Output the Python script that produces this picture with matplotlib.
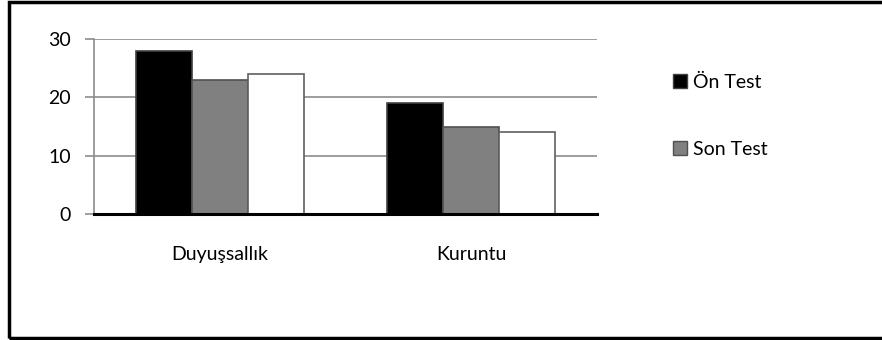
import numpy as np
import matplotlib.pyplot as plt
from matplotlib.patches import Patch, Rectangle

plt.rcParams['font.family'] = ['Lato', 'DejaVu Sans']

categories = ['Duyuşsallık', 'Kuruntu']
on_test = [28, 19]
son_test = [23, 15]
third = [24, 14]
yticks = [0, 10, 20, 30]

fig = plt.figure(figsize=(8.82, 3.40), dpi=100)
W, H = 882, 340
ax = fig.add_axes([94/W, 1-214/H, (597-94)/W, (214-39)/H])

x = np.arange(len(categories))
w = 0.223
ax.bar(x - w, on_test, w, color='black', edgecolor='#404040', linewidth=1.2, zorder=3)
ax.bar(x, son_test, w, color='#808080', edgecolor='#505050', linewidth=1.2, zorder=3)
ax.bar(x + w, third, w, color='white', edgecolor='#606060', linewidth=1.2, zorder=3)

ax.set_xlim(-0.5, 1.5)
ax.set_ylim(0, 30)
ax.set_yticks(yticks)
ax.yaxis.grid(True, color='#8c8c8c', linewidth=1.2, zorder=0)
ax.set_xticks(x)
ax.set_xticklabels(categories, fontsize=14)
ax.tick_params(axis='x', length=0, pad=23)
ax.tick_params(axis='y', length=6.5, width=1.2, color='#8c8c8c', labelsize=14, pad=10)
for s in ['top', 'right']:
    ax.spines[s].set_visible(False)
ax.spines['left'].set_color('#8c8c8c')
ax.spines['left'].set_linewidth(1.2)
ax.spines['bottom'].set_color('black')
ax.spines['bottom'].set_linewidth(2.2)
ax.spines['bottom'].set_zorder(4)

handles = [Patch(facecolor='black', edgecolor='#404040'),
           Patch(facecolor='#808080', edgecolor='#505050')]
fig.legend(handles, ['Ön Test', 'Son Test'], loc='upper left',
           bbox_to_anchor=(665/W, 1-66/H), frameon=False, fontsize=14,
           handlelength=0.75, handleheight=0.75, handletextpad=0.3,
           labelspacing=2.55, borderaxespad=0)

fig.patches.append(Rectangle((9/W, 2/H), 1.0, 1-4/H, transform=fig.transFigure,
                             fill=False, edgecolor='black', linewidth=2.5))

fig.savefig('out.png', dpi=100)
